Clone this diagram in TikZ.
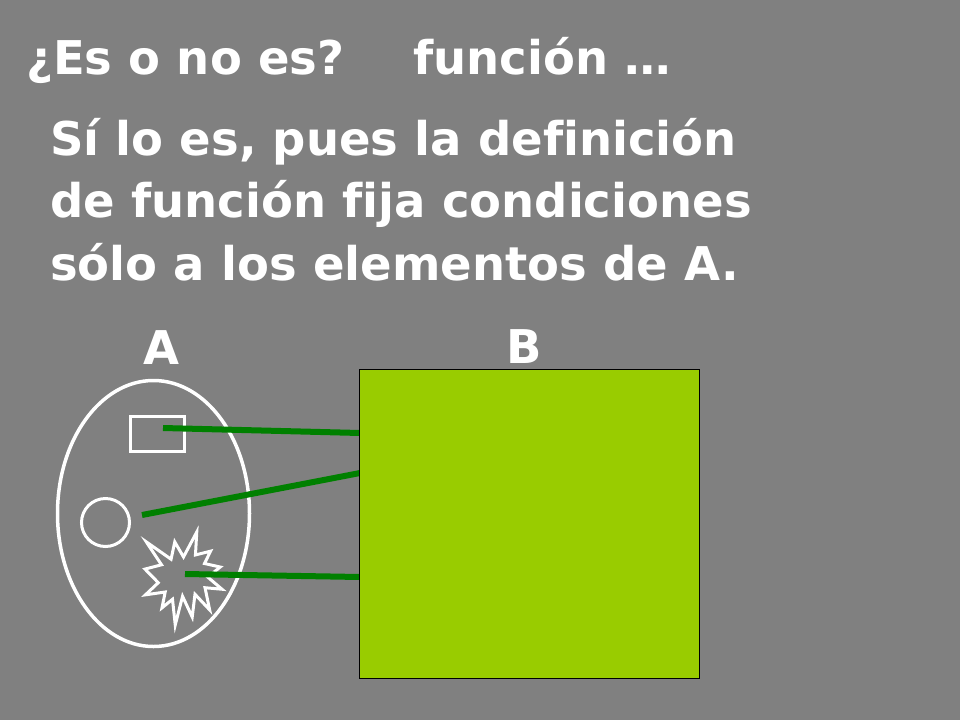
\documentclass[tikz,border=0pt]{standalone}
\usepackage{fontspec}
\setmainfont{DejaVu Sans}[Ligatures=NoCommon]
\usepackage{tikz}
\usetikzlibrary{shapes.geometric}
\definecolor{slidegray}{HTML}{808080}
\definecolor{setgreen}{HTML}{99CC00}
\definecolor{mapgreen}{HTML}{008000}
\tikzset{
  font={\fontsize{46.5}{56}\selectfont\bfseries},
  slidetext/.style={text=white, anchor=base west},
  elemline/.style={draw=white, line width=3pt},
  mapline/.style={draw=mapgreen, line width=6pt}}

\begin{document}
\begin{tikzpicture}[x=1pt,y=-1pt]
\tikzstyle{every node}+=[inner sep=0pt]
\fill [slidegray] (0,0) rectangle (960,720);
\useasboundingbox (0,0) rectangle (960,720);
\node [slidetext] (title) at (26,74) {¿Es o no es?};
\node [slidetext] (titlefn) at (413,74) {función …};
\node [slidetext] (answer1) at (50,155) {Sí lo es, pues la definición};
\node [slidetext] (answer2) at (50,217) {de función fija condiciones};
\node [slidetext] (answer3) at (50,280) {sólo a los elementos de A.};
\node [slidetext] (labelA) at (143,364) {A};
\node [slidetext] (labelB) at (506,363) {B};
% conjunto A
\node [elemline, line width=3.5pt, ellipse, minimum width=192, minimum height=266] (setA) at (153.5,513.5) {};
\node [elemline, rectangle, minimum width=54, minimum height=35] (elemRect) at (157.5,434) {};
\node [elemline, circle, minimum size=48] (elemCirc) at (105.5,522.5) {};
\begin{scope}[shift={(145,532)}, x=0.77pt, y=-0.93pt]
\draw [elemline] (50,26.85) -- (67.23,0) -- (65.53,24.65) -- (85.09,20.63)
  -- (77.32,33.87) -- (97.67,37.67) -- (81.51,48.5) -- (100,61.53)
  -- (77.95,59.92) -- (84,83.77) -- (64.91,66.93) -- (61.33,91.38)
  -- (48.76,69.14) -- (39.28,100) -- (35.72,72.35) -- (22.05,81.56)
  -- (26.24,64.52) -- (0.63,67.53) -- (17.23,54.51) -- (0,39.88)
  -- (21.42,35.26) -- (1.71,10.63) -- (33.85,29.26) -- (38.67,10.63) -- cycle;
\end{scope}
\coordinate (elemStar) at (185,574);
% conjunto B
\coordinate (fromRect) at (163,428);
\coordinate (fromCirc) at (142,515);
\coordinate (toB1) at (360,433);
\coordinate (toB2) at (360,473);
\coordinate (toB3) at (360,577);
\draw [mapline] (fromRect) -- (toB1);
\draw [mapline] (fromCirc) -- (toB2);
\draw [mapline] (elemStar) -- (toB3);
\node [draw=black, fill=setgreen, line width=1pt, minimum width=340, minimum height=309] (setB) at (529,523.5) {};
\end{tikzpicture}
\end{document}
